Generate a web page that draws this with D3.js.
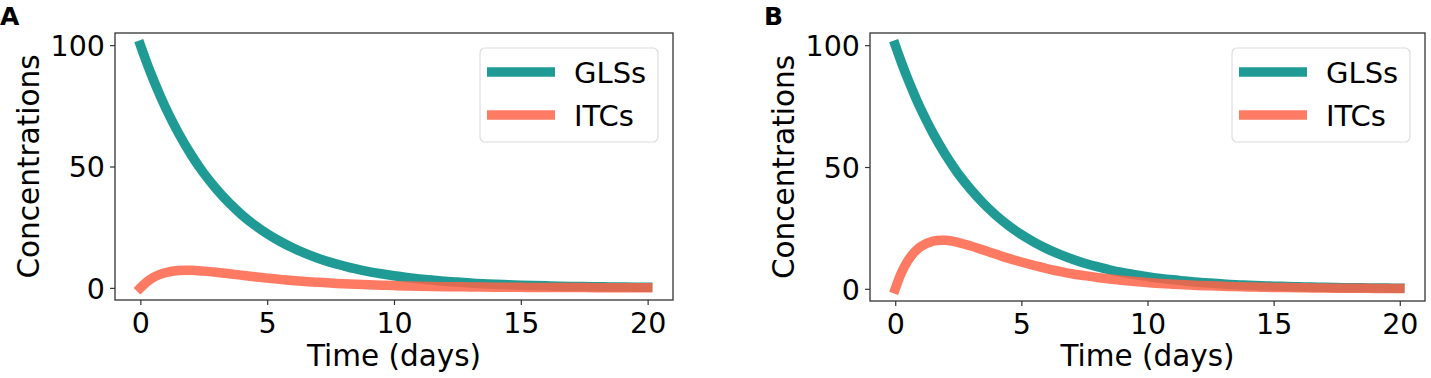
<!DOCTYPE html>
<html>
<head>
<meta charset="utf-8">
<script src="https://cdn.jsdelivr.net/npm/d3@7"></script>
<style>
  html, body { margin: 0; padding: 0; background: #fff; }
  svg { display: block; }
  text { font-family: "DejaVu Sans", sans-serif; fill: #000; }
</style>
</head>
<body>
<svg id="chart" width="1431" height="378"></svg>
<script>
// ---- data ----
const time = [0,0.25,0.5,0.75,1,1.5,2,2.5,3,3.5,4,4.5,5,5.5,6,6.5,7,7.5,8,8.5,9,9.5,10,10.5,11,11.5,12,12.5,13,13.5,14,14.5,15,15.5,16,16.5,17,17.5,18,18.5,19,19.5,20];
const glsA = [100,92.8,86.1,79.9,74.1,63.8,54.9,47.2,40.7,35.0,30.1,25.9,22.3,19.2,16.5,14.2,12.2,10.5,9.1,7.8,6.7,5.8,5.0,4.3,3.7,3.2,2.7,2.4,2.0,1.7,1.5,1.3,1.1,0.96,0.82,0.71,0.61,0.52,0.45,0.39,0.33,0.29,0.25];
const itcA = [0,2.44,4.2,5.46,6.3,7.15,7.26,6.9,6.4,5.8,5.2,4.6,4.0,3.5,3.0,2.6,2.3,1.97,1.70,1.46,1.27,1.09,0.94,0.81,0.70,0.60,0.51,0.44,0.38,0.33,0.28,0.24,0.21,0.18,0.16,0.14,0.12,0.10,0.084,0.073,0.062,0.055,0.047];
const glsB = [100,92.8,86.1,79.9,74.1,63.8,54.9,47.2,40.7,35.0,30.1,25.9,22.3,19.2,16.5,14.2,12.2,10.5,9.1,7.8,6.7,5.8,5.0,4.3,3.7,3.2,2.7,2.4,2.0,1.7,1.5,1.3,1.1,0.96,0.82,0.71,0.61,0.52,0.45,0.39,0.33,0.29,0.25];
const itcB = [0,6.7,11.5,14.96,17.3,19.6,19.9,19.0,17.6,15.9,14.2,12.5,11.0,9.6,8.3,7.2,6.2,5.4,4.65,4.0,3.47,2.99,2.57,2.22,1.91,1.64,1.41,1.21,1.05,0.90,0.78,0.67,0.57,0.49,0.43,0.37,0.32,0.27,0.23,0.20,0.17,0.15,0.13];
const seriesNames = ["GLSs", "ITCs"];
const seriesColors = ["#14958f", "#ff6347"];
const seriesOpacity = [0.95, 0.85];
const xTicks = [0, 5, 10, 15, 20];
const yTicks = [0, 50, 100];
const panelLetters = ["A", "B"];
const xLabel = "Time (days)";
const yLabel = "Concentrations";

// ---- layout ----
const svg = d3.select("#chart");
const panels = [
  { letter: panelLetters[0], left: 115, right: 673, top: 33, bottom: 300, letterX: 0, series: [glsA, itcA] },
  { letter: panelLetters[1], left: 870, right: 1425, top: 33, bottom: 301, letterX: 764, series: [glsB, itcB] }
];

panels.forEach(p => {
  const g = svg.append("g");
  const x = d3.scaleLinear().domain([-1, 21]).range([p.left, p.right]);
  const y = d3.scaleLinear().domain([-5, 105]).range([p.bottom, p.top]);

  // lines
  const line = d3.line().x((d, i) => x(time[i])).y(d => y(d)).curve(d3.curveCatmullRom.alpha(0.5));
  p.series.forEach((vals, si) => {
    g.append("path")
      .datum(vals)
      .attr("d", line)
      .attr("fill", "none")
      .attr("stroke", seriesColors[si])
      .attr("stroke-opacity", seriesOpacity[si])
      .attr("stroke-width", 9.5)
      .attr("stroke-linecap", "square")
      .attr("stroke-linejoin", "round");
  });

  // axes
  const xAxis = d3.axisBottom(x).tickValues(xTicks).tickSize(5).tickPadding(8).tickFormat(d3.format("d"));
  const yAxis = d3.axisLeft(y).tickValues(yTicks).tickSize(5).tickPadding(5).tickFormat(d3.format("d"));
  const gx = g.append("g").attr("transform", `translate(0,${p.bottom})`).call(xAxis);
  const gy = g.append("g").attr("transform", `translate(${p.left},0)`).call(yAxis);
  [gx, gy].forEach(ax => {
    ax.select(".domain").remove();
    ax.selectAll(".tick line").attr("stroke", "#333").attr("stroke-width", 1.2);
    ax.selectAll(".tick text").attr("font-size", 28.5).attr("font-family", "DejaVu Sans, sans-serif").attr("fill", "#000");
  });
  gx.selectAll(".tick text").attr("dy", "0.71em");
  gy.selectAll(".tick text").attr("dy", "0.36em");

  // frame
  g.append("rect")
    .attr("x", p.left).attr("y", p.top)
    .attr("width", p.right - p.left).attr("height", p.bottom - p.top)
    .attr("fill", "none").attr("stroke", "#333").attr("stroke-width", 1.3);

  // axis labels
  g.append("text")
    .attr("x", (p.left + p.right) / 2).attr("y", 366)
    .attr("text-anchor", "middle").attr("font-size", 29.5)
    .text(xLabel);
  g.append("text")
    .attr("transform", `translate(${p.left - 76},${(p.top + p.bottom) / 2}) rotate(-90)`)
    .attr("text-anchor", "middle").attr("font-size", 29.5)
    .text(yLabel);

  // panel letter
  g.append("text")
    .attr("x", p.letterX).attr("y", 25)
    .attr("font-size", 25).attr("font-weight", "bold")
    .text(p.letter);

  // legend
  const lgRight = p.right - 15;
  const lgLeft = lgRight - 178;
  const lg = g.append("g");
  lg.append("rect")
    .attr("x", lgLeft).attr("y", 48).attr("width", 178).attr("height", 94)
    .attr("rx", 5).attr("ry", 5)
    .attr("fill", "#fff").attr("fill-opacity", 0.8)
    .attr("stroke", "#dcdcdc").attr("stroke-width", 1.2);
  seriesNames.forEach((name, i) => {
    const cy = 72 + i * 43;
    lg.append("line")
      .attr("x1", lgLeft + 7).attr("x2", lgLeft + 75)
      .attr("y1", cy).attr("y2", cy)
      .attr("stroke", seriesColors[i]).attr("stroke-opacity", seriesOpacity[i])
      .attr("stroke-width", 9.5);
    lg.append("text")
      .attr("x", lgLeft + 94).attr("y", cy + 11)
      .attr("font-size", 29)
      .text(name);
  });
});
</script>
</body>
</html>
